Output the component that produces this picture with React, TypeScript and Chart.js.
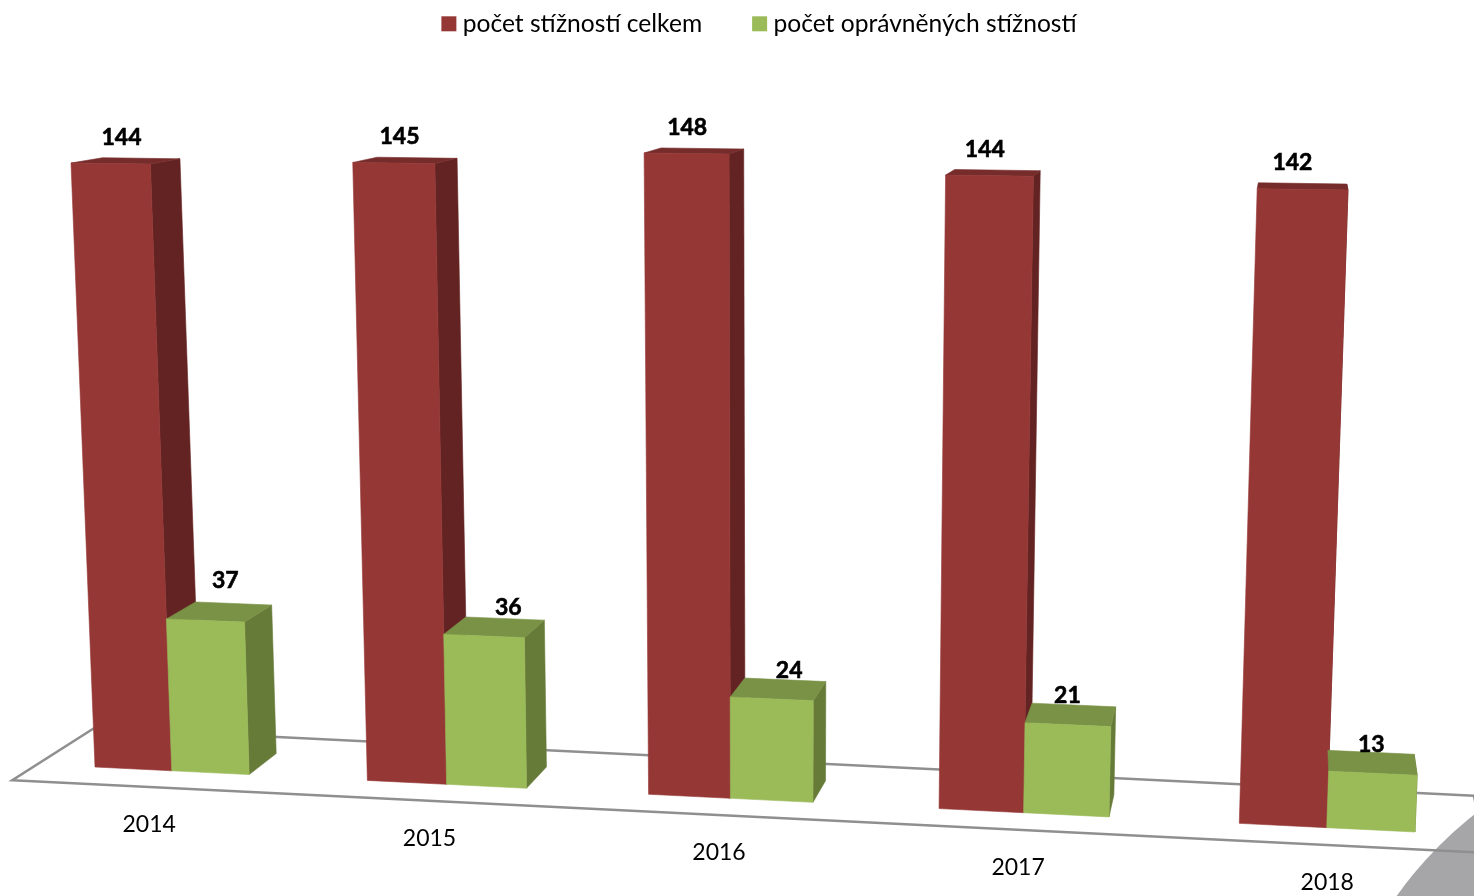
import React, { useEffect, useRef } from "react";
import { Chart, registerables } from "chart.js";

Chart.register(...registerables);

const categories = ["2014", "2015", "2016", "2017", "2018"];
const totalComplaints = [144, 145, 148, 144, 142];
const justifiedComplaints = [37, 36, 24, 21, 13];
const seriesNames = ["počet stížností celkem", "počet oprávněných stížností"];

const FONT = "Lato, Carlito, sans-serif";
const COLORS = [
  { front: "#953735", top: "#762C2B", side: "#632322" },
  { front: "#9BBB59", top: "#7A9246", side: "#667B38" },
];

const VALUE_MAX = 150;
const BAR_GROUP = 0.57;
// camera calibration: (fraction along x axis, fraction of value axis) -> screen
const CALIBRATION: [number, number, number, number][] = [
  [0.043, 0, 95, 767],
  [0.957, 0, 1415, 832],
  [0.043, 0.96, 71, 163],
  [0.9, 142 / 150, 1348, 190],
];
const VANISH = { x: 1300, y: -42 };
const BAR_DEPTH = 0.0257;
const FLOOR_FRONT = -0.02;
const FLOOR_BACK = 0.045;
// hand-placed data labels of the second series, relative to their default spot
const GREEN_LABEL_NUDGE_X = [-2, 8, 7, -5, 0];
const GREEN_LABEL_NUDGE_Y = [0, 12, 14, 13, 15];

function solveHomography(pts: [number, number, number, number][]) {
  const A: number[][] = [];
  for (const [u, v, x, y] of pts) {
    A.push([u, v, 1, 0, 0, 0, -u * x, -v * x, x]);
    A.push([0, 0, 0, u, v, 1, -u * y, -v * y, y]);
  }
  for (let c = 0; c < 8; c++) {
    let p = c;
    for (let r = c + 1; r < 8; r++) if (Math.abs(A[r][c]) > Math.abs(A[p][c])) p = r;
    [A[c], A[p]] = [A[p], A[c]];
    for (let r = 0; r < 8; r++) {
      if (r === c) continue;
      const f = A[r][c] / A[c][c];
      for (let k = c; k < 9; k++) A[r][k] -= f * A[c][k];
    }
  }
  return A.map((row, i) => row[8] / row[i]);
}
const H = solveHomography(CALIBRATION);

function project(u: number, v: number, depth = 0) {
  const w = H[6] * u + H[7] * v + 1;
  const x = (H[0] * u + H[1] * v + H[2]) / w;
  const y = (H[3] * u + H[4] * v + H[5]) / w;
  return { x: x + depth * (VANISH.x - x), y: y + depth * (VANISH.y - y) };
}

type P = { x: number; y: number };
function poly(ctx: CanvasRenderingContext2D, pts: P[], fill: string) {
  ctx.beginPath();
  pts.forEach((p, i) => (i ? ctx.lineTo(p.x, p.y) : ctx.moveTo(p.x, p.y)));
  ctx.closePath();
  ctx.fillStyle = fill;
  ctx.fill();
  ctx.strokeStyle = fill;
  ctx.lineWidth = 0.6;
  ctx.stroke();
}

const perspectivePlugin = {
  id: "perspective",
  beforeDatasetsDraw(chart: any) {
    const { ctx, chartArea: a } = chart;
    const U = (px: number) => (px - a.left) / (a.right - a.left);
    const V = (py: number) => (a.bottom - py) / (a.bottom - a.top);

    ctx.save();
    // grey decorative disc in the corner
    ctx.beginPath();
    ctx.arc(1718, 1124, 394, 0, Math.PI * 2);
    ctx.fillStyle = "#A6A6A9";
    ctx.fill();

    // floor outline
    const c = [
      project(0, 0, FLOOR_FRONT),
      project(1, 0, FLOOR_FRONT),
      project(1, 0, FLOOR_BACK),
      project(0, 0, FLOOR_BACK),
    ];
    ctx.beginPath();
    c.forEach((p, i) => (i ? ctx.lineTo(p.x, p.y) : ctx.moveTo(p.x, p.y)));
    ctx.closePath();
    ctx.strokeStyle = "#8F8F8F";
    ctx.lineWidth = 2.5;
    ctx.stroke();

    // bars, back to front in each category
    const metas = [chart.getDatasetMeta(0), chart.getDatasetMeta(1)];
    categories.forEach((_, i) => {
      metas.forEach((meta, s) => {
        const bar = meta.data[i];
        const col = COLORS[s];
        const l = U(bar.x - bar.width / 2);
        const r = U(bar.x + bar.width / 2);
        const t = V(bar.y);
        const b = V(bar.base);
        const k = BAR_DEPTH;
        poly(ctx, [project(r, b), project(r, t), project(r, t, k), project(r, b, k)], col.side);
        poly(ctx, [project(l, t), project(r, t), project(r, t, k), project(l, t, k)], col.top);
        poly(ctx, [project(l, b), project(r, b), project(r, t), project(l, t)], col.front);
      });
    });

    // value labels
    ctx.fillStyle = "#000";
    ctx.strokeStyle = "#000";
    ctx.lineWidth = 0.6;
    ctx.textAlign = "center";
    ctx.textBaseline = "middle";
    ctx.font = `bold 23px ${FONT}`;
    metas.forEach((meta, s) => {
      meta.data.forEach((bar: any, i: number) => {
        const values = s === 0 ? totalComplaints : justifiedComplaints;
        const p = project(U(bar.x), V(bar.y), s === 0 ? 0.0125 : 0.02);
        const dx = s === 0 ? -5.5 - (i - 1) * 1.5 : GREEN_LABEL_NUDGE_X[i];
        const dy = s === 0 ? -23.5 : -27 + GREEN_LABEL_NUDGE_Y[i];
        ctx.fillText(String(values[i]), p.x + dx, p.y + dy);
        ctx.strokeText(String(values[i]), p.x + dx, p.y + dy);
      });
    });

    // category labels on the slanted floor edge
    const xScale = chart.scales.x;
    ctx.font = `23px ${FONT}`;
    categories.forEach((label, i) => {
      const p = project(U(xScale.getPixelForTick(i)), 0, FLOOR_FRONT);
      ctx.fillText(label, p.x, p.y + 37.5);
    });
    ctx.restore();
    return false;
  },
};

export default function App() {
  const ref = useRef<HTMLCanvasElement>(null);
  useEffect(() => {
    document.body.style.margin = "0";
    const chart = new Chart(ref.current!, {
      type: "bar",
      plugins: [perspectivePlugin],
      data: {
        labels: categories,
        datasets: [
          { label: seriesNames[0], data: totalComplaints, backgroundColor: COLORS[0].front },
          { label: seriesNames[1], data: justifiedComplaints, backgroundColor: COLORS[1].front },
        ],
      },
      options: {
        responsive: false,
        animation: false,
        layout: { padding: { left: 50, top: -44.5 } },
        datasets: { bar: { categoryPercentage: BAR_GROUP, barPercentage: 1 } },
        scales: {
          x: { grid: { display: false }, border: { display: false }, ticks: { display: false } },
          y: { display: false, min: 0, max: VALUE_MAX },
        },
        plugins: {
          tooltip: { enabled: false },
          legend: {
            position: "top",
            labels: {
              usePointStyle: true,
              pointStyle: "rect",
              boxWidth: 3,
              boxHeight: 15,
              padding: 56,
              color: "#000",
              font: { family: FONT, size: 24.6 },
            },
          },
        },
      },
    } as any);
    return () => chart.destroy();
  }, []);
  return (
    <div style={{ position: "fixed", left: 0, top: 0, width: 1474, height: 896, overflow: "hidden", background: "#fff" }}>
      <canvas ref={ref} width={1474} height={896} style={{ display: "block" }} />
    </div>
  );
}
